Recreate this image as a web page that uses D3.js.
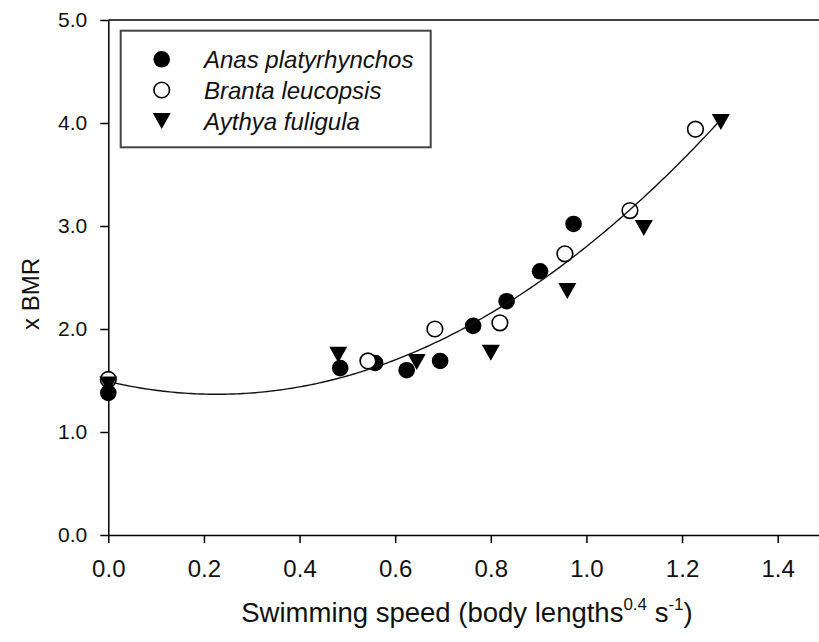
<!DOCTYPE html>
<html>
<head>
<meta charset="utf-8">
<script src="https://cdn.jsdelivr.net/npm/d3@7"></script>
<style>
  html, body { margin: 0; padding: 0; background: #fff; }
  svg { display: block; font-family: Arial, "Liberation Sans", sans-serif; }
</style>
</head>
<body>
<svg id="chart" width="819" height="642"></svg>
<script>
// Metabolic rate (multiples of BMR) against swimming speed for three duck species
const anasSpeed   = [0.00, 0.485, 0.558, 0.624, 0.694, 0.763, 0.833, 0.903, 0.973];
const anasBMR     = [1.38, 1.62, 1.67, 1.60, 1.69, 2.03, 2.27, 2.56, 3.02];

const brantaSpeed = [0.00, 0.543, 0.683, 0.819, 0.955, 1.091, 1.228];
const brantaBMR   = [1.51, 1.69, 2.00, 2.06, 2.73, 3.15, 3.94];

const aythyaSpeed = [0.00, 0.481, 0.645, 0.800, 0.960, 1.120, 1.281];
const aythyaBMR   = [1.46, 1.75, 1.68, 1.77, 2.37, 2.98, 4.01];

// Second-order polynomial fit: y = a + b*x + c*x^2, drawn over fitRange
const fitCoefficients = [1.49, -1.09, 2.40];
const fitRange = [0, 1.28];

const xTicks = [0, 0.2, 0.4, 0.6, 0.8, 1.0, 1.2, 1.4];
const yTicks = [0, 1, 2, 3, 4, 5];

const speciesNames = ["Anas platyrhynchos", "Branta leucopsis", "Aythya fuligula"];

const svg = d3.select("#chart");

const x = d3.scaleLinear().domain([0, 1.5]).range([108.3, 825.5]);
const y = d3.scaleLinear().domain([0, 5]).range([535, 20]);

// Frame: top border line
svg.append("line")
  .attr("x1", x(0)).attr("x2", x(1.5))
  .attr("y1", y(5)).attr("y2", y(5))
  .attr("stroke", "#000").attr("stroke-width", 1.5);

// Axes
const yAxis = svg.append("g")
  .attr("transform", `translate(${x(0)},0)`)
  .call(d3.axisLeft(y).tickValues(yTicks).tickFormat(d3.format(".1f"))
    .tickSize(8).tickSizeOuter(0).tickPadding(13));
yAxis.selectAll("text").attr("font-size", 21).attr("fill", "#111")
  .style("font-family", "Arial, 'Liberation Sans', sans-serif");

const xAxis = svg.append("g")
  .attr("transform", `translate(0,${y(0)})`)
  .call(d3.axisBottom(x).tickValues(xTicks).tickFormat(d3.format(".1f"))
    .tickSize(8).tickSizeOuter(0).tickPadding(17));
xAxis.selectAll("text").attr("font-size", 24).attr("fill", "#111")
  .style("font-family", "Arial, 'Liberation Sans', sans-serif");

svg.selectAll(".domain, .tick line").attr("stroke", "#000").attr("stroke-width", 1.5);

// Axis titles
svg.append("text")
  .attr("transform", `translate(39,294) rotate(-90)`)
  .attr("text-anchor", "middle")
  .attr("font-size", 24).attr("fill", "#111")
  .text("x BMR");

const xTitle = svg.append("text")
  .attr("x", 467).attr("y", 622)
  .attr("text-anchor", "middle")
  .attr("font-size", 27.5).attr("fill", "#111");
xTitle.append("tspan").text("Swimming speed (body lengths");
xTitle.append("tspan").attr("dy", -12).attr("font-size", 17).text("0.4");
xTitle.append("tspan").attr("dy", 12).text(" s");
xTitle.append("tspan").attr("dy", -12).attr("font-size", 17).text("-1");
xTitle.append("tspan").attr("dy", 12).text(")");

// Marker drawing helpers
const triPath = "M-9,-8L9,-8L0,8Z";
function drawFilled(g, cx, cy) {
  g.append("circle").attr("cx", cx).attr("cy", cy).attr("r", 8.3).attr("fill", "#000");
}
function drawOpen(g, cx, cy) {
  g.append("circle").attr("cx", cx).attr("cy", cy).attr("r", 7.8)
    .attr("fill", "#fff").attr("stroke", "#000").attr("stroke-width", 1.6);
}
function drawTriangle(g, cx, cy) {
  g.append("path").attr("d", triPath)
    .attr("transform", `translate(${cx},${cy})`).attr("fill", "#000");
}

const points = svg.append("g");
anasSpeed.forEach((s, i) => drawFilled(points, x(s), y(anasBMR[i])));
brantaSpeed.forEach((s, i) => drawOpen(points, x(s), y(brantaBMR[i])));
aythyaSpeed.forEach((s, i) => drawTriangle(points, x(s), y(aythyaBMR[i])));

// Fitted curve
const [a, b, c] = fitCoefficients;
const fitXs = d3.range(0, 201).map(i => fitRange[0] + (fitRange[1] - fitRange[0]) * i / 200);
svg.append("path")
  .datum(fitXs)
  .attr("fill", "none").attr("stroke", "#111").attr("stroke-width", 1.4)
  .attr("d", d3.line().x(v => x(v)).y(v => y(a + b * v + c * v * v)));

// Legend
const legend = svg.append("g");
legend.append("rect")
  .attr("x", 120.7).attr("y", 30.7).attr("width", 310).attr("height", 116.6)
  .attr("fill", "#fff").attr("stroke", "#444").attr("stroke-width", 2);
const rowY = [59.3, 90, 121];
const drawers = [drawFilled, drawOpen, drawTriangle];
speciesNames.forEach((name, i) => {
  drawers[i](legend, 161.7, rowY[i]);
  legend.append("text")
    .attr("x", 204).attr("y", rowY[i]).attr("dy", "0.36em")
    .attr("font-size", 24).attr("font-style", "italic").attr("fill", "#111")
    .text(name);
});
</script>
</body>
</html>
